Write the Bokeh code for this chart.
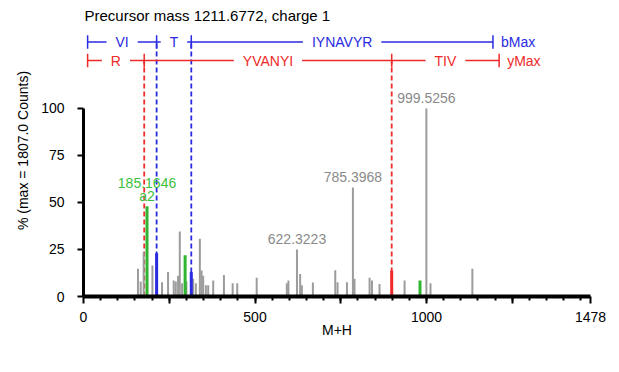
from bokeh.plotting import figure
from bokeh.models import FixedTicker
from bokeh.core.properties import value
from bokeh.embed import file_html
from bokeh.resources import INLINE

FONT = "Liberation Sans"

# ---------------- data ----------------
title_text = "Precursor mass 1211.6772, charge 1"

# unmatched peaks (grey)
other_mz = [158.8, 166.7, 175.4, 200.9, 228.9, 246.5, 263.0, 269.0, 275.7, 280.7,
            287.4, 300.0, 319.6, 327.5, 339.2, 344.2, 348.8, 356.7, 363.5, 378.1,
            409.4, 434.8, 448.2, 504.9, 592.7, 597.4, 622.3223, 631.6, 636.5, 668.7,
            733.9, 740.6, 768.0, 785.3968, 790.0, 834.0, 841.0, 863.0, 936.0,
            999.5256, 1011.6, 1133.6]
other_int = [14.7, 8.0, 23.6, 16.5, 7.6, 13.0, 8.5, 8.0, 11.0, 34.6,
             7.0, 8.0, 9.4, 7.0, 30.7, 13.8, 11.0, 6.0, 6.0, 8.5,
             11.5, 7.0, 7.0, 10.0, 7.0, 8.5, 25.0, 12.0, 6.0, 7.5,
             14.0, 7.6, 7.6, 58.0, 9.4, 10.0, 8.5, 6.7, 8.5,
             100.0, 7.0, 14.7]
# a-ion / neutral-loss peaks (green)
a_mz = [185.1646, 296.2, 981.0]
a_int = [48.0, 22.0, 8.5]
# b-ion peaks (blue)
b_mz = [213.16, 314.21]
b_int = [23.0, 13.0]
# y-ion peaks (red)
y_mz = [898.48]
y_int = [13.8]

# peak labels
grey_label_mz = [622.3223, 785.3968, 999.5256]
grey_label_int = [25.0, 58.0, 100.0]
grey_label_txt = ["622.3223", "785.3968", "999.5256"]
green_label_mz = [185.1646]
green_label_int = [48.0]
green_label_mass = ["185.1646"]
green_label_ion = ["a2"]

# fragment ruler
b_bounds = [12.0, 213.16, 314.21, 1193.67]
b_frags = ["VI", "T", "IYNAVYR"]
y_bounds = [12.0, 177.0, 898.48, 1211.68]
y_frags = ["R", "YVANYI", "TIV"]
b_end_label = "bMax"
y_end_label = "yMax"

x_max = 1478
x_major = [0, 250, 500, 750, 1000, 1250, 1478]
x_labels = {0: "0", 250: "", 500: "500", 750: "", 1000: "1000", 1250: "", 1478: "1478"}
x_minor = list(range(50, 1478, 50))
y_ticks = [0, 25, 50, 75, 100]
x_title = "M+H"
y_title = "% (max = 1807.0 Counts)"

# ---------------- style ----------------
GREY = "#9c9c9c"
GREY_TXT = "#8a8a8a"
GREEN = "#2fb52f"
GREEN_TXT = "#3cbf3c"
BLUE = "#2a2ae0"
RED = "#ee2a2a"
Y_TOP = 155.3
ROW_B = 135.3
ROW_Y = 125.5
TICK_H = 3.6
TITLE_Y = 149.5

p = figure(width=608, height=358, x_range=(0, x_max), y_range=(0, Y_TOP),
           output_backend="svg", toolbar_location=None,
           min_border_left=83, min_border_right=18, min_border_top=4, min_border_bottom=62)
p.xgrid.visible = False
p.ygrid.visible = False
p.outline_line_color = None
p.background_fill_color = "white"

# dashed markers for matched ions
p.segment(x0=b_bounds[1:3], y0=[0] * 2, x1=b_bounds[1:3], y1=[ROW_B] * 2,
          line_color=BLUE, line_width=1.8, line_dash="5 3")
p.segment(x0=y_bounds[1:3], y0=[0] * 2, x1=y_bounds[1:3], y1=[ROW_Y] * 2,
          line_color=RED, line_width=1.8, line_dash="5 3")

# peaks
p.segment(x0=other_mz, y0=[0] * len(other_mz), x1=other_mz, y1=other_int, line_color=GREY, line_width=2)
p.segment(x0=a_mz, y0=[0] * len(a_mz), x1=a_mz, y1=a_int, line_color=GREEN, line_width=3)
p.segment(x0=b_mz, y0=[0] * len(b_mz), x1=b_mz, y1=b_int, line_color=BLUE, line_width=3)
p.segment(x0=y_mz, y0=[0] * len(y_mz), x1=y_mz, y1=y_int, line_color=RED, line_width=3)

# peak labels
p.text(x=grey_label_mz, y=grey_label_int, text=grey_label_txt, text_align="center",
       text_baseline="bottom", y_offset=-5, text_font=value(FONT), text_font_size="14px",
       text_color=GREY_TXT)
p.text(x=green_label_mz, y=green_label_int, text=green_label_ion, text_align="center",
       text_baseline="bottom", y_offset=-2, text_font=value(FONT), text_font_size="14px",
       text_color=GREEN_TXT)
p.text(x=green_label_mz, y=green_label_int, text=green_label_mass, text_align="center",
       text_baseline="bottom", y_offset=-18, text_font=value(FONT), text_font_size="14px",
       text_color=GREEN_TXT)

# ruler rows
def ruler(bounds, frags, row, color, end_label):
    p.segment(x0=[bounds[0]], y0=[row], x1=[bounds[-1]], y1=[row], line_color=color, line_width=1.5)
    p.segment(x0=bounds, y0=[row - TICK_H] * len(bounds), x1=bounds, y1=[row + TICK_H] * len(bounds),
              line_color=color, line_width=1.5)
    mids = [(bounds[i] + bounds[i + 1]) / 2 for i in range(len(frags))]
    p.text(x=mids, y=[row] * len(mids), text=frags, text_align="center", text_baseline="middle",
           text_font=value(FONT), text_font_size="14px", text_color=color,
           background_fill_color="white", padding=dict(left=9, right=9, top=1, bottom=1))
    p.text(x=[bounds[-1]], y=[row], text=[end_label], text_align="left", text_baseline="middle",
           x_offset=8, text_font=value(FONT), text_font_size="14px", text_color=color)

ruler(b_bounds, b_frags, ROW_B, BLUE, b_end_label)
ruler(y_bounds, y_frags, ROW_Y, RED, y_end_label)

p.text(x=[0], y=[TITLE_Y], text=[title_text], text_align="left", text_baseline="middle",
       x_offset=1, text_font=value(FONT), text_font_size="15px", text_color="black")

# axes
xa = p.xaxis[0]
xa.ticker = FixedTicker(ticks=x_major, minor_ticks=x_minor)
xa.major_label_overrides = x_labels
xa.bounds = (0, x_max)
xa.axis_line_width = 4
xa.axis_line_color = "black"
xa.major_tick_line_color = "black"
xa.minor_tick_line_color = "black"
xa.major_tick_line_width = 2
xa.minor_tick_line_width = 2
xa.major_tick_out = 7
xa.major_tick_in = 0
xa.minor_tick_out = 4
xa.minor_tick_in = 0
xa.major_label_standoff = 8
xa.major_label_text_font = FONT
xa.major_label_text_font_size = "14px"
xa.major_label_text_color = "black"
xa.axis_label = x_title
xa.axis_label_standoff = -3
xa.axis_label_text_font = FONT
xa.axis_label_text_font_size = "14px"
xa.axis_label_text_font_style = "normal"
xa.axis_label_text_color = "black"

ya = p.yaxis[0]
ya.ticker = FixedTicker(ticks=y_ticks, minor_ticks=[])
ya.bounds = (0, 100)
ya.axis_line_width = 3
ya.axis_line_color = "black"
ya.major_tick_line_color = "black"
ya.major_tick_line_width = 2
ya.major_tick_out = 6
ya.major_tick_in = 0
ya.minor_tick_out = 0
ya.minor_tick_in = 0
ya.major_label_standoff = 13
ya.major_label_text_font = FONT
ya.major_label_text_font_size = "14px"
ya.major_label_text_color = "black"
ya.axis_label = y_title
ya.axis_label_standoff = 7
ya.axis_label_text_font = FONT
ya.axis_label_text_font_size = "14px"
ya.axis_label_text_font_style = "normal"
ya.axis_label_text_color = "black"

open("out.html", "w").write(file_html(p, INLINE))
